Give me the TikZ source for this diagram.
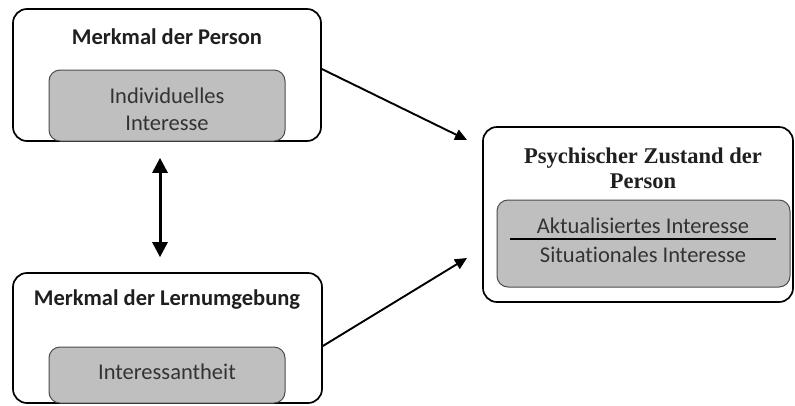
\documentclass[tikz,border=0pt]{standalone}
\usepackage{fontspec}
\setmainfont{Carlito}[Ligatures={NoCommon,NoRequired,NoContextual}]
\newfontfamily\titleserif{Liberation Serif}
\usetikzlibrary{arrows.meta}

\begin{document}
\begin{tikzpicture}[x=1pt,y=-1pt,
  outerbox/.style={draw=black, line width=1.7pt, rounded corners=14pt, fill=white,
                   inner sep=0pt, anchor=center},
  innerbox/.style={draw=black!70, line width=1pt, rounded corners=11pt, fill=gray!50,
                   inner sep=0pt, anchor=center},
  headsans/.style={font=\fontsize{22.5}{27}\selectfont\bfseries, text=black!88, inner sep=0pt},
  headserif/.style={font=\titleserif\fontsize{22.5}{25}\selectfont\bfseries, text=black!88,
                    align=center, inner sep=0pt},
  bodytext/.style={font=\fontsize{22.5}{27}\selectfont, text=black!80, align=center, inner sep=0pt},
  flow/.style={line width=1.9pt, -{Triangle[length=12pt,width=11pt]}},
  mutual/.style={line width=3pt, {Triangle[length=15pt,width=15pt]}-{Triangle[length=15pt,width=15pt]}}]

  \useasboundingbox (0,0) rectangle (795,405);

  % person box
  \node[outerbox, minimum width=308pt, minimum height=132pt] (person) at (167,75) {};
  \node[innerbox, minimum width=236pt, minimum height=71pt] (indiv) at (167,105.5) {};
  \node[headsans] (personhead) at (167,37) {Merkmal der Person};
  \node[bodytext] (indivtext) at (167,109) {Individuelles\\Interesse};

  % learning environment box
  \node[outerbox, minimum width=309pt, minimum height=130pt] (env) at (167.5,338) {};
  \node[innerbox, minimum width=236pt, minimum height=56pt] (interest) at (167,375) {};
  \node[headsans] (envhead) at (167,300) {Merkmal der Lernumgebung};
  \node[bodytext] (interesttext) at (167,372) {Interessantheit};

  % psychological state box
  \node[outerbox, minimum width=310pt, minimum height=175pt] (state) at (638,214.5) {};
  \node[innerbox, minimum width=293pt, minimum height=87pt] (stateinner) at (643.5,243.5) {};
  \node[headserif] (statehead) at (643,168) {Psychischer Zustand der\\Person};
  \node[bodytext] (actual) at (643,226) {Aktualisiertes Interesse};
  \node[bodytext] (situ) at (643,255) {Situationales Interesse};
  \draw[line width=1.5pt] (510,239) -- (776,239);

  % connectors
  \coordinate (tipA) at (467,140);
  \coordinate (tipB) at (467,258);
  \draw[flow] ([yshift=6pt]person.east) -- (tipA);
  \draw[flow] ([yshift=-8pt]env.east) -- (tipB);
  \draw[mutual] ([xshift=-7pt,yshift=-16pt]person.south) -- ([xshift=-7.5pt,yshift=15pt]env.north);
\end{tikzpicture}
\end{document}
